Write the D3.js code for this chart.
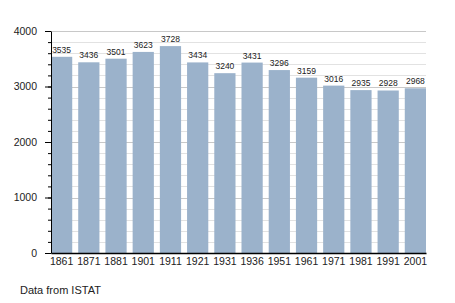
<!DOCTYPE html>
<html>
<head>
<meta charset="utf-8">
<script src="https://cdn.jsdelivr.net/npm/d3@7"></script>
<style>
    body { margin: 0; background: #fff; }
    svg { display: block; font-family: "Liberation Sans", Arial, sans-serif; }
</style>
</head>
<body>
<div id="chart"></div>
<script>
var years = ["1861", "1871", "1881", "1901", "1911", "1921", "1931", "1936", "1951", "1961", "1971", "1981", "1991", "2001"];
var population = [3535, 3436, 3501, 3623, 3728, 3434, 3240, 3431, 3296, 3159, 3016, 2935, 2928, 2968];
var majorTicks = [0, 1000, 2000, 3000, 4000];
var minorTicks = d3.range(0, 4001, 200);

var width = 455;
var height = 303;
var plotLeft = 51, plotRight = 426, plotTop = 31, plotBottom = 253;

var svg = d3.select("#chart")
            .append("svg")
            .attr("width", width)
            .attr("height", height);

var xScale = d3.scaleBand()
               .domain(years)
               .range([plotLeft, plotRight])
               .paddingInner(0.22)
               .paddingOuter(0);

var yScale = d3.scaleLinear()
               .domain([0, 4000])
               .range([plotBottom, plotTop]);

// grid lines, every 200
svg.append("g")
   .selectAll("line")
   .data(minorTicks)
   .enter().append("line")
   .attr("x1", plotLeft)
   .attr("x2", plotRight)
   .attr("y1", d => Math.round(yScale(d)) + 0.5)
   .attr("y2", d => Math.round(yScale(d)) + 0.5)
   .attr("stroke", d => d % 1000 === 0 ? "#c8c8c8" : "#e2e2e2")
   .attr("stroke-width", 1);

svg.append("g")
   .selectAll("rect")
   .data(population)
   .enter().append("rect")
   .attr("x", (d, i) => xScale(years[i]))
   .attr("y", d => yScale(d))
   .attr("width", xScale.bandwidth())
   .attr("height", d => plotBottom - yScale(d))
   .attr("fill", "#9bb2cb");

svg.append("g")
   .selectAll("text")
   .data(population)
   .enter().append("text")
   .attr("x", (d, i) => xScale(years[i]) + xScale.bandwidth() / 2)
   .attr("y", d => yScale(d) - 4)
   .attr("text-anchor", "middle")
   .attr("font-size", 8.5)
   .attr("fill", "#222")
   .text(d => d);

// y axis with minor ticks
var yMinor = svg.append("g")
   .attr("transform", `translate(${plotLeft}, 0)`)
   .call(d3.axisLeft(yScale).tickValues(minorTicks).tickSize(3).tickFormat(""));
yMinor.select(".domain").remove();

var yAxis = svg.append("g")
   .attr("transform", `translate(${plotLeft}, 0)`)
   .call(d3.axisLeft(yScale).tickValues(majorTicks).tickSize(6).tickPadding(8).tickSizeOuter(0).tickFormat(d3.format("d")));
yAxis.selectAll("text").attr("font-size", 10.5).attr("fill", "#222").attr("font-family", "Liberation Sans, Arial, sans-serif");
svg.selectAll("g.tick line").attr("stroke", "#000");

var xAxis = svg.append("g")
   .attr("transform", `translate(0, ${plotBottom})`)
   .call(d3.axisBottom(xScale).tickSize(0).tickPadding(5).tickSizeOuter(0));
xAxis.selectAll("text").attr("font-size", 10.5).attr("fill", "#222").attr("font-family", "Liberation Sans, Arial, sans-serif");
xAxis.select(".domain").attr("stroke", "#000").attr("stroke-width", 1.3);

svg.append("text")
   .attr("x", 20)
   .attr("y", 294)
   .attr("font-size", 11)
   .attr("fill", "#222")
   .text("Data from ISTAT");
</script>
</body>
</html>
